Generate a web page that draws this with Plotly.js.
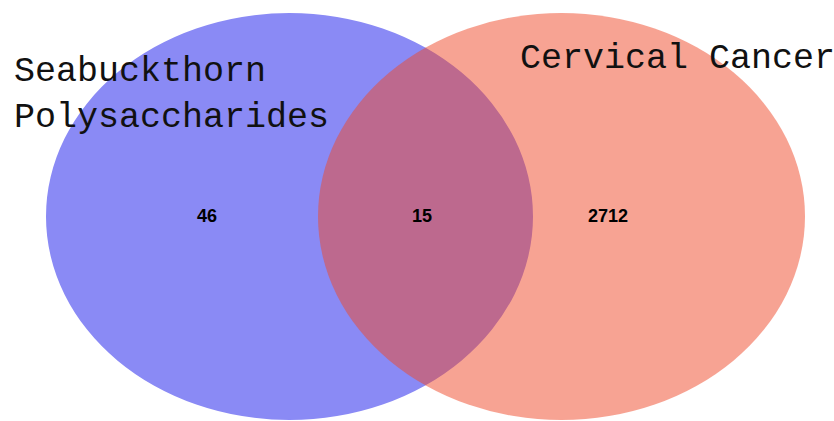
<!DOCTYPE html>
<html>
<head>
<meta charset="utf-8">
<script src="https://cdn.plot.ly/plotly-3.0.1.min.js"></script>
<style>html,body{margin:0;padding:0;background:#fff;}#chart{width:834px;height:421px;}</style>
</head>
<body>
<div id="chart"></div>
<script>
// Venn data
const setNames = ["Seabuckthorn<br>Polysaccharides", "Cervical Cancer"];
const regionLabels = ["Seabuckthorn only", "Both", "Cervical Cancer only"];
const regionCounts = [46, 15, 2712];

// layout geometry (pixel-like coordinates)
const regionX = [207, 422, 608];
const regionY = [217, 217, 217];

const trace = {
  type: "scatter",
  mode: "text",
  x: regionX,
  y: regionY,
  text: regionCounts.map(String),
  customdata: regionLabels,
  textfont: {family: "Liberation Sans, Arial, sans-serif", size: 18, color: "#000", weight: "bold"},
  hoverinfo: "none",
  showlegend: false
};

const layout = {
  width: 834, height: 421,
  margin: {l: 0, r: 0, t: 0, b: 0},
  paper_bgcolor: "#ffffff",
  plot_bgcolor: "#ffffff",
  xaxis: {range: [0, 834], visible: false, fixedrange: true},
  yaxis: {range: [421, 0], visible: false, fixedrange: true},
  shapes: [
    {type: "circle", xref: "x", yref: "y", x0: 46, x1: 533, y0: 13, y1: 420,
     fillcolor: "rgb(138,138,245)", line: {width: 0}, layer: "below"},
    {type: "circle", xref: "x", yref: "y", x0: 318, x1: 805, y0: 13, y1: 420,
     fillcolor: "rgb(239,71,39)", opacity: 0.5, line: {width: 0}, layer: "below"}
  ],
  annotations: [
    {text: setNames[0], x: 12, y: 95, xref: "x", yref: "y", xanchor: "left", yanchor: "middle",
     align: "left", showarrow: false,
     font: {family: "Liberation Mono, monospace", size: 35, color: "#111"}},
    {text: setNames[1], x: 518, y: 59, xref: "x", yref: "y", xanchor: "left", yanchor: "middle",
     align: "left", showarrow: false,
     font: {family: "Liberation Mono, monospace", size: 35, color: "#111"}}
  ]
};

Plotly.newPlot("chart", [trace], layout, {displayModeBar: false, staticPlot: true});
</script>
</body>
</html>
